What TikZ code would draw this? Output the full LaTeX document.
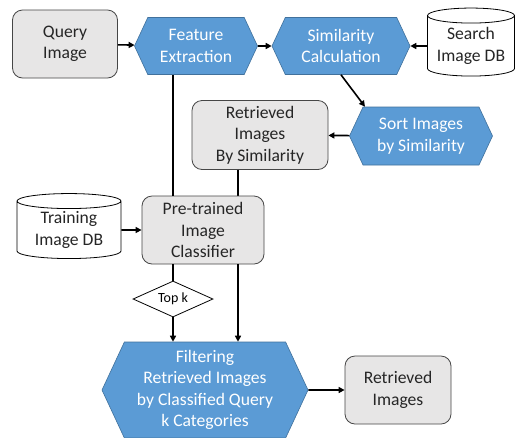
\documentclass[tikz,border=0pt]{standalone}
\usepackage{fontspec}
\setmainfont{Carlito}
\usepackage{tikz}
\usetikzlibrary{shapes.geometric, shapes.symbols, arrows.meta, positioning}
\definecolor{cBlue}{RGB}{91,155,213}
\definecolor{cBlueEdge}{RGB}{65,113,156}
\definecolor{cGrey}{RGB}{231,230,230}
\definecolor{cGreyEdge}{RGB}{70,70,70}
\tikzset{
    box/.style     ={rectangle, rounded corners=10pt, align=center, draw=cGreyEdge, fill=cGrey, line width=0.8pt, inner sep=0pt, font=\fontsize{17.6}{21.5}\selectfont, text=black!85},
    hexa/.style    ={signal, signal to=east and west, signal pointer angle=130, align=center, draw=cBlueEdge, fill=cBlue, line width=0.6pt, inner sep=0pt, text=white, font=\fontsize{17.6}{21.5}\selectfont},
    db/.style      ={cylinder, shape border rotate=90, aspect=0.22, align=center, draw=black, fill=white, line width=0.8pt, inner sep=0pt, font=\fontsize{17.6}{21.5}\selectfont, text=black!85},
    pick/.style    ={diamond, aspect=2.2, align=center, draw=black, fill=white, line width=0.8pt, inner sep=0pt, font=\fontsize{14}{17}\selectfont},
    flowarrow/.style={-{Triangle[length=6pt, width=6pt]}, line width=1.6pt},
    flowline/.style={line width=1.6pt},
}
\begin{document}
\begin{tikzpicture}[x=1pt, y=-1pt]
    \clip (0,0) rectangle (529,437);
    \fill[white] (0,0) rectangle (529,437);
    \node[box, minimum width=105pt, minimum height=68pt] (query) at (65,44) {Query\\Image};
    \node[hexa, minimum width=123pt, minimum height=57pt] (feat) at (196,46) {Feature\\Extraction};
    \node[hexa, minimum width=138pt, minimum height=57pt] (simil) at (341,46) {Similarity\\Calculation};
    \node[db, minimum width=87pt, minimum height=68pt] (searchdb) at (471,46) {Search\\Image DB};
    \node[box, minimum width=136pt, minimum height=69pt] (retsim) at (260,135) {Retrieved\\Images\\By Similarity};
    \node[hexa, minimum width=143pt, minimum height=58pt] (sort) at (421,136) {Sort Images\\by Similarity};
    \node[db, minimum width=104pt, minimum height=65pt] (traindb) at (69,230) {Training\\Image DB};
    \draw[flowline] ([xshift=-22pt]retsim.south) -- ([xshift=-22pt]retsim.south |- 0,300);
    \node[box, minimum width=122pt, minimum height=68pt] (classif) at (203,230) {Pre-trained\\Image\\Classifier};
    \node[pick, minimum width=80pt, minimum height=36pt] (topk) at (173,299) {Top k};
    \node[hexa, minimum width=206pt, minimum height=96pt] (filter) at (205,390) {Filtering\\Retrieved Images\\by Classified Query\\k Categories};
    \node[box, minimum width=106pt, minimum height=68pt] (retr) at (398,390) {Retrieved\\Images};
    \draw[flowarrow] (query) -- (feat);
    \draw[flowarrow] (feat) -- (simil);
    \draw[flowarrow] (searchdb) -- (simil);
    \draw[flowarrow] (simil.south) -- ([xshift=-56pt]sort.north);
    \draw[flowarrow] (sort) -- (retsim);
    \draw[flowline] ([xshift=-23pt]feat.south) -- ([xshift=-23pt]feat.south |- classif.north);
    \draw[flowarrow] (traindb) -- (classif);
    \draw[flowline] (classif.south -| topk) -- (topk.north);
    \draw[flowarrow] (topk.south) -- (topk.south |- filter.north);
    \draw[flowarrow] ([xshift=-22pt]retsim.south |- classif.south) -- ([xshift=-22pt]retsim.south |- filter.north);
    \draw[flowarrow] (filter) -- (retr);
\end{tikzpicture}
\end{document}
